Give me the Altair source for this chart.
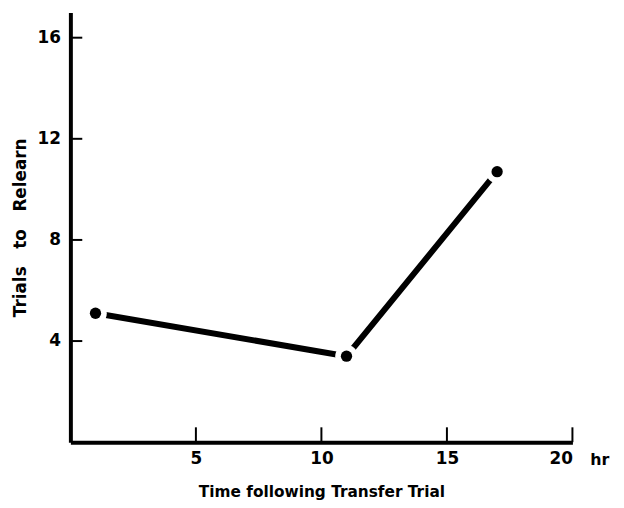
import altair as alt
import pandas as pd

hours = [1, 11, 17]
trials = [5.1, 3.4, 10.7]
x_ticks = [5, 10, 15, 20]
y_ticks = [4, 8, 12, 16]

W, H = 507, 434
FONT = "DejaVu Sans"
NB = "\u00a0"

df = pd.DataFrame({"h": hours, "t": trials})
xt = pd.DataFrame({"v": x_ticks})
yt = pd.DataFrame({"v": y_ticks})
hr = pd.DataFrame({"v": [20], "y": [0], "s": ["hr"]})

xs = alt.Scale(domain=[0, 20], nice=False, zero=False)
ys = alt.Scale(domain=[0, 17], nice=False, zero=False)

x_title = "Time following Transfer Trial"
y_title = f"Trials{NB}{NB}{NB}to{NB}{NB}{NB}Relearn"

xax = alt.Axis(values=x_ticks, ticks=False, tickSize=0, grid=False, domainColor="black",
               domainWidth=4, labelFont=FONT, labelFontSize=17, labelFontWeight="bold",
               labelColor="black", labelPadding=9, title=x_title,
               titleFont=FONT, titleFontSize=15.5, titleFontWeight="bold", titleColor="black",
               titlePadding=18)
yax = alt.Axis(values=y_ticks, ticks=False, tickSize=0, grid=False, domainColor="black",
               domainWidth=4, labelFont=FONT, labelFontSize=17, labelFontWeight="bold",
               labelColor="black", labelPadding=10, title=y_title,
               titleFont=FONT, titleFontSize=17, titleFontWeight="bold", titleColor="black",
               titlePadding=8)

base = alt.Chart(df)
line = base.mark_line(color="black", strokeWidth=6).encode(
    x=alt.X("h:Q", scale=xs, axis=xax),
    y=alt.Y("t:Q", scale=ys, axis=yax),
)
halo = base.mark_point(filled=True, color="white", size=520, opacity=1, shape="circle").encode(
    x=alt.X("h:Q", scale=xs), y=alt.Y("t:Q", scale=ys))
dots = base.mark_point(filled=True, color="black", size=130, opacity=1, shape="circle").encode(
    x=alt.X("h:Q", scale=xs), y=alt.Y("t:Q", scale=ys))

xtick = alt.Chart(xt).mark_rule(color="black", strokeWidth=2).encode(
    x=alt.X("v:Q", scale=xs), y=alt.value(H), y2=alt.value(H - 15))
ytick = alt.Chart(yt).mark_rule(color="black", strokeWidth=2).encode(
    y=alt.Y("v:Q", scale=ys), x=alt.value(0), x2=alt.value(12))
hrtext = alt.Chart(hr).mark_text(font=FONT, fontSize=16, fontWeight="bold", color="black",
                                 align="left", baseline="top", dx=18, dy=10, clip=False).encode(
    x=alt.X("v:Q", scale=xs), y=alt.Y("y:Q", scale=ys), text="s:N")

chart = alt.layer(line, halo, dots, xtick, ytick, hrtext).properties(
    width=W, height=H, autosize="none", background="white",
    padding={"left": 63, "top": 2, "right": 44, "bottom": 62},
).configure_view(strokeWidth=0, stroke="transparent")

chart.save("out.html", embed_options={"renderer": "svg", "actions": False})
